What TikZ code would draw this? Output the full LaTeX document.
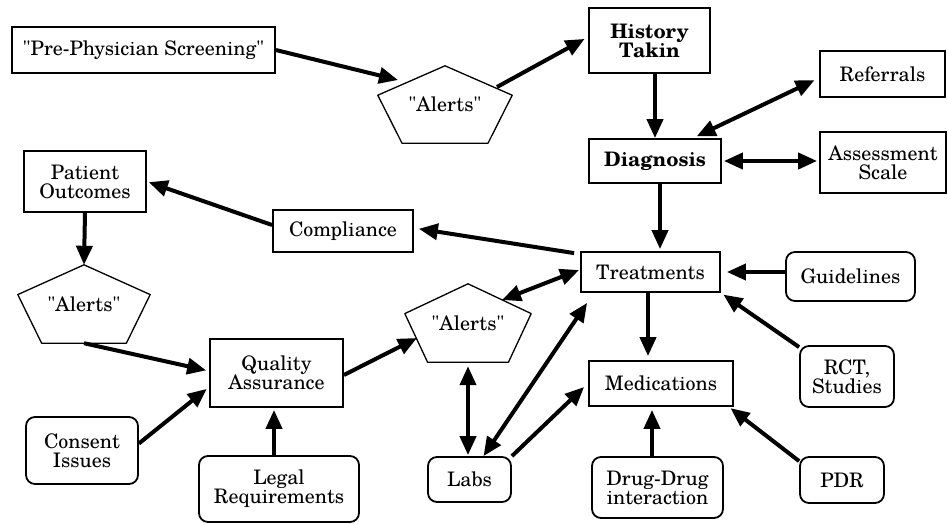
\documentclass[tikz,border=0pt]{standalone}
\usepackage{fontspec}
\setmainfont{TeX Gyre Schola}[Ligatures=TeXOff]
\usetikzlibrary{arrows.meta, calc}
\tikzstyle{box} = [draw, line width=1.8pt, inner sep=0pt, align=center, font=\fontsize{20}{19}\selectfont]
\tikzstyle{rbox} = [box, rounded corners=9pt]
\tikzstyle{pent} = [inner sep=0pt, align=center, font=\fontsize{20}{19}\selectfont]
\tikzstyle{arrow} = [line width=4pt, -{Triangle[length=19pt,width=16pt]}]
\tikzstyle{darrow} = [line width=4pt, {Triangle[length=19pt,width=16pt]}-{Triangle[length=19pt,width=16pt]}]
\newcommand\alertshape[1]{%
  \draw[line width=1.3pt, line join=round] (#1.north) -- ($(#1.west)!0.24!(#1.north west)$)
    -- ($(#1.south)!0.64!(#1.south west)$) -- ($(#1.south)!0.64!(#1.south east)$)
    -- ($(#1.east)!0.24!(#1.north east)$) -- cycle;}
\begin{document}
\begin{tikzpicture}[x=1pt, y=1pt]
   \useasboundingbox (0,0) rectangle (948,-523);

   % Screening and history
   \node[box, minimum width=263pt, minimum height=46pt] (pps) at (143.5,-50) {"Pre-Physician Screening"};
   \node[pent, minimum width=134pt, minimum height=77pt] (al1) at (445,-104.5) {"Alerts"};
   \node[box, minimum width=121pt, minimum height=65pt, font=\fontsize{20}{19}\selectfont\bfseries] (hist) at (649.5,-40.5) {History\\Takin};
   \node[box, minimum width=125pt, minimum height=46pt] (ref) at (882.5,-74) {Referrals};
   \node[box, minimum width=132pt, minimum height=44pt, font=\fontsize{20}{19}\selectfont\bfseries] (diag) at (655,-161) {Diagnosis};
   \node[box, minimum width=126pt, minimum height=61pt] (assess) at (883,-162.5) {Assessment\\Scale};

   % Treatments and around
   \node[box, minimum width=139pt, minimum height=40pt] (treat) at (650.5,-272) {Treatments};
   \node[rbox, minimum width=129pt, minimum height=49pt] (guide) at (850.5,-276.5) {Guidelines};
   \node[pent, minimum width=126pt, minimum height=78pt] (al3) at (468,-323) {"Alerts"};
   \node[box, minimum width=144pt, minimum height=45pt] (med) at (661,-383.5) {Medications};
   \node[rbox, minimum width=94pt, minimum height=61pt] (rct) at (847,-376.5) {RCT,\\Studies};
   \node[rbox, minimum width=83pt, minimum height=45pt] (labs) at (469.5,-479.5) {Labs};
   \node[rbox, minimum width=131pt, minimum height=61pt] (drug) at (657.5,-487.5) {Drug-Drug\\interaction};
   \node[rbox, minimum width=84pt, minimum height=46pt] (pdr) at (842,-480) {PDR};

   % Outcomes and quality
   \node[box, minimum width=122pt, minimum height=61pt] (po) at (85,-181.5) {Patient\\Outcomes};
   \node[box, minimum width=140pt, minimum height=42pt] (comp) at (343,-231) {Compliance};
   \node[pent, minimum width=132pt, minimum height=78pt] (al2) at (84,-304) {"Alerts"};
   \node[box, minimum width=133pt, minimum height=68pt] (qa) at (276.5,-373) {Quality\\Assurance};
   \node[rbox, minimum width=112pt, minimum height=67pt] (cons) at (82,-450.5) {Consent\\Issues};
   \node[rbox, minimum width=160pt, minimum height=66pt] (legal) at (279,-489) {Legal\\Requirements};

   % Pentagons
   \alertshape{al1}
   \alertshape{al2}
   \alertshape{al3}

   % Arrows
   \draw[arrow] (pps.east) -- ([shift={(-47,24.5)}]al1.center);
   \draw[arrow, shorten >=4pt] ([shift={(52,17.5)}]al1.center) -- ([yshift=3.5pt]hist.west);
   \draw[arrow] (hist.south -| diag.north) -- (diag.north);
   \draw[darrow, shorten <=5pt, shorten >=4pt] ([yshift=-4pt]ref.west) -- ([xshift=38pt]diag.north);
   \draw[darrow, shorten <=2pt, shorten >=2pt] (diag.east) -- (diag.east -| assess.west);
   \draw[arrow, shorten >=2pt] ([xshift=5pt]diag.south) -- ([xshift=5pt]diag.south |- treat.north);
   \draw[arrow, shorten >=5pt] ([shift={(-6,-2)}]treat.north west) -- ([yshift=3pt]comp.east);
   \draw[arrow, shorten >=2pt] ([yshift=6pt]comp.west) -- (po.east);
   \draw[arrow] (po.south) -- (al2.north);
   \draw[arrow, shorten >=3pt] (al2.south) -- ([yshift=2pt]qa.west);
   \draw[arrow, shorten >=3pt] ([yshift=7pt]cons.east) -- ([yshift=-14pt]qa.west);
   \draw[arrow, shorten >=2pt] ([xshift=-5pt]legal.north) -- ([xshift=-5pt]legal.north |- qa.south);
   \draw[arrow] ([yshift=-2pt]qa.east) -- ([shift={(-51,-15)}]al3.center);
   \draw[darrow] ([shift={(34,23)}]al3.center) -- ([shift={(-1,2)}]treat.west);
   \draw[darrow, shorten <=4pt, shorten >=1pt] (al3.south) -- (al3.south |- labs.north);
   \draw[darrow] ([xshift=14pt]labs.north) -- ([shift={(7,-10)}]treat.south west);
   \draw[arrow] (labs.north east) -- ([shift={(-4,-3.5)}]med.west);
   \draw[arrow, shorten >=4pt] ([xshift=-2.5pt]treat.south) -- ([xshift=-2.5pt]treat.south |- med.north);
   \draw[arrow, shorten >=6pt] ([yshift=4.5pt]guide.west) -- ([yshift=4.5pt]guide.west -| treat.east);
   \draw[arrow, shorten >=3pt] ([yshift=-2pt]rct.north west) -- (treat.south east);
   \draw[arrow, shorten >=3pt] ([xshift=-5.5pt]drug.north) -- ([xshift=-5.5pt]drug.north |- med.south);
   \draw[arrow, shorten >=2pt] ([yshift=-5pt]pdr.north west) -- ([xshift=-5pt]med.south east);

\end{tikzpicture}
\end{document}
